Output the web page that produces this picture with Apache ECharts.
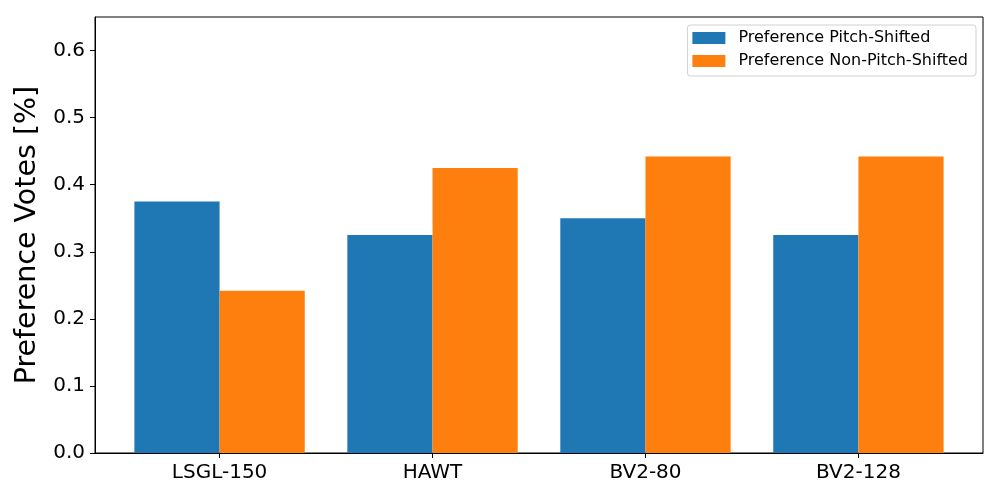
<!DOCTYPE html>
<html>
<head>
<meta charset="utf-8">
<script src="https://cdn.jsdelivr.net/npm/echarts@6/dist/echarts.min.js"></script>
<style>html,body{margin:0;padding:0;background:#fff;}#c{width:1000px;height:500px;}</style>
</head>
<body>
<div id="c"></div>
<script>
const categories = ['LSGL-150', 'HAWT', 'BV2-80', 'BV2-128'];
const pitchShifted = [0.375, 0.325, 0.35, 0.325];
const nonPitchShifted = [0.242, 0.425, 0.442, 0.442];
const yTicks = [0, 0.1, 0.2, 0.3, 0.4, 0.5, 0.6];
const seriesNames = ['Preference Pitch-Shifted', 'Preference Non-Pitch-Shifted'];

const font = 'DejaVu Sans';
const catPos = categories.map((c, i) => i);
const chart = echarts.init(document.getElementById('c'), null, {renderer: 'canvas'});
chart.setOption({
  animation: false,
  textStyle: {fontFamily: font},
  grid: {left: 95, right: 17, top: 17, bottom: 47, show: true, borderColor: '#000', borderWidth: 1, backgroundColor: 'transparent'},
  legend: {
    right: 24, top: 25,
    orient: 'vertical',
    itemWidth: 33, itemHeight: 12, itemGap: 7,
    padding: [5, 8, 7, 5],
    borderColor: '#d0d0d0', borderWidth: 1, borderRadius: 3,
    backgroundColor: 'rgba(255,255,255,0.8)',
    textStyle: {fontFamily: font, fontSize: 16, lineHeight: 16, color: '#000', padding: [0, 0, 0, 8]},
    icon: 'rect',
    data: seriesNames
  },
  xAxis: {
    type: 'value', min: -0.585, max: 3.585,
    splitLine: {show: false},
    axisLine: {show: true, onZero: false, lineStyle: {color: '#000', width: 1}},
    axisTick: {show: true, length: 5, lineStyle: {color: '#000'}, customValues: catPos},
    axisLabel: {customValues: catPos, formatter: v => categories[Math.round(v)], fontSize: 20, color: '#000', margin: 10, fontFamily: font}
  },
  yAxis: {
    type: 'value', min: 0, max: 0.65,
    name: 'Preference Votes [%]', nameLocation: 'middle', nameGap: 52,
    nameTextStyle: {fontSize: 28.5, color: '#000', fontFamily: font},
    splitLine: {show: false},
    axisLine: {show: true, onZero: false, lineStyle: {color: '#000', width: 1}},
    axisTick: {show: true, length: 5, lineStyle: {color: '#000'}, customValues: yTicks},
    axisLabel: {customValues: yTicks, formatter: v => v.toFixed(1), fontSize: 20, color: '#000', margin: 10, fontFamily: font}
  },
  series: [
    {name: seriesNames[0], type: 'bar', data: pitchShifted.map((v, i) => [i, v]), barWidth: '40%', barGap: '0%', itemStyle: {color: '#1f77b4'}},
    {name: seriesNames[1], type: 'bar', data: nonPitchShifted.map((v, i) => [i, v]), barWidth: '40%', barGap: '0%', itemStyle: {color: '#ff7f0e'}}
  ]
});
</script>
</body>
</html>
